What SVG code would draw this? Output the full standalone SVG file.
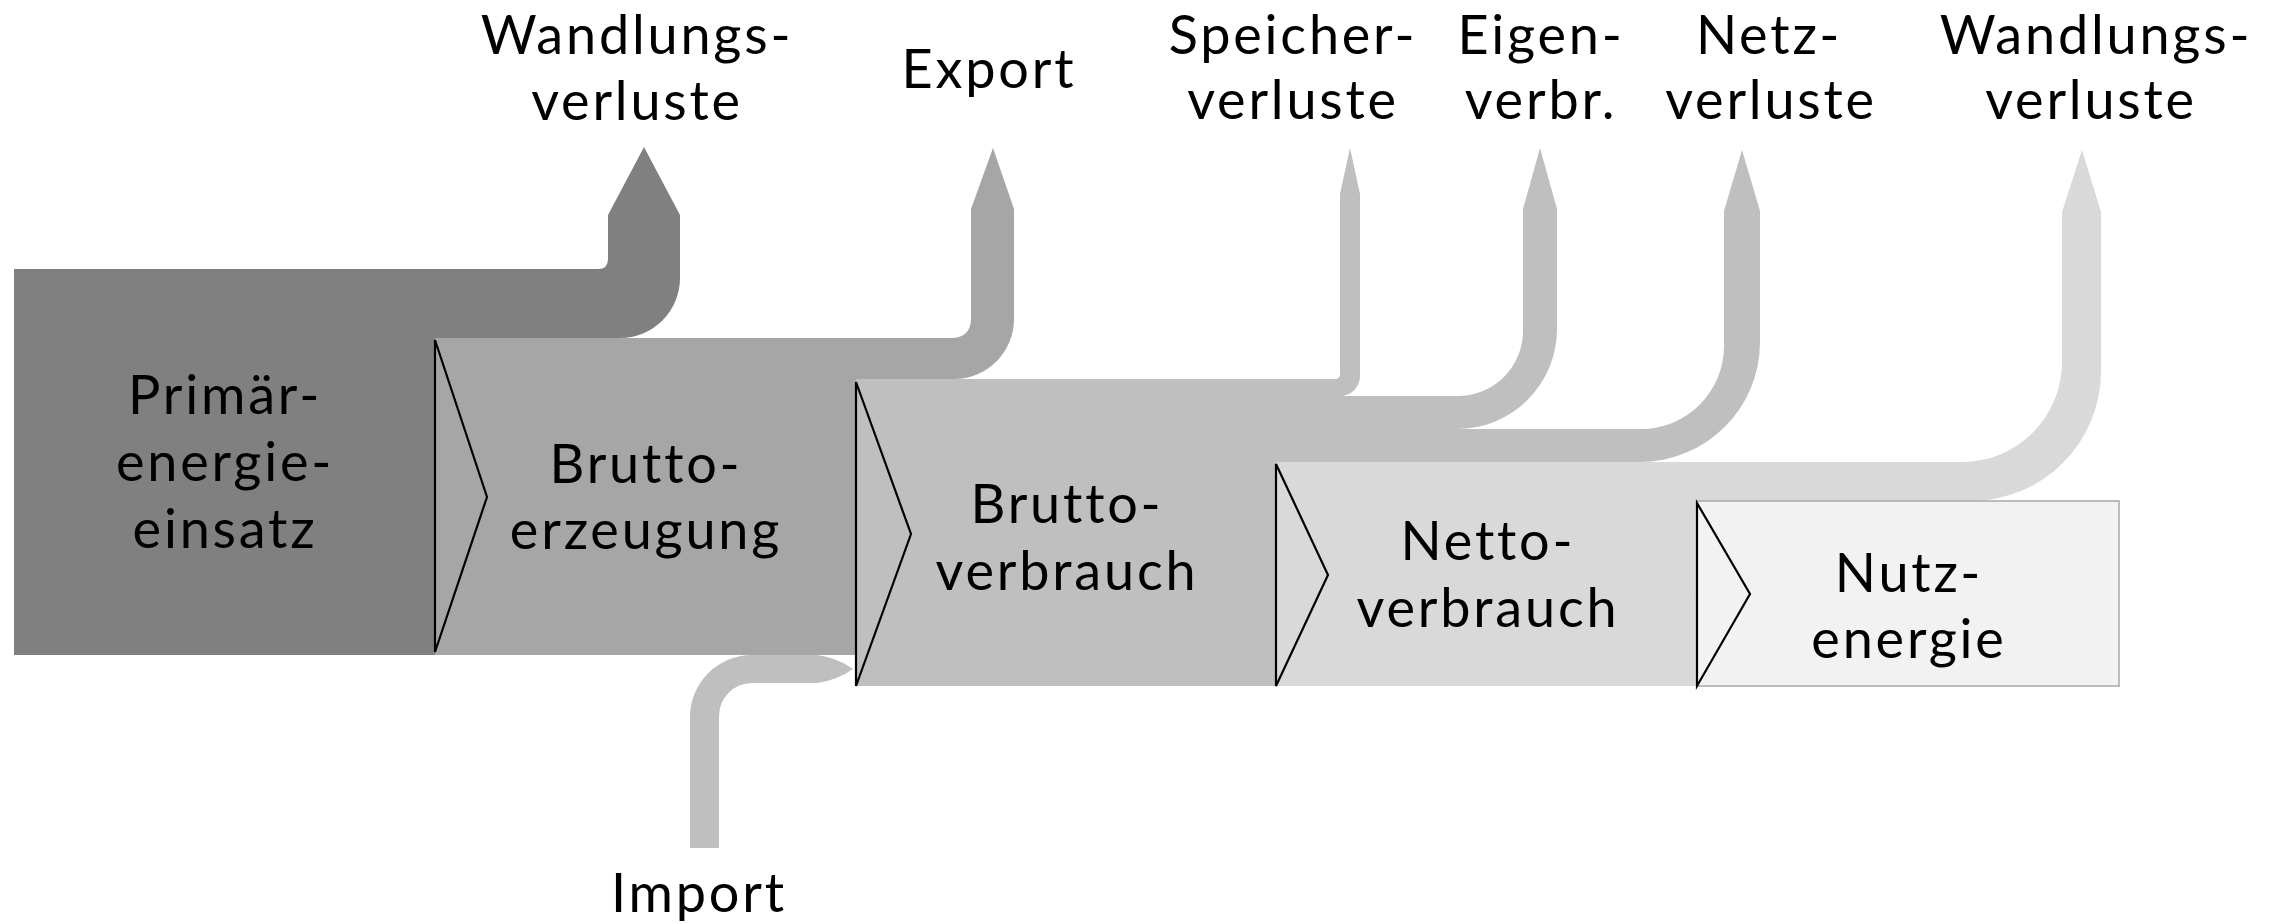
<svg xmlns="http://www.w3.org/2000/svg" width="2281" height="924" viewBox="0 0 2281 924">
<style>
text{font-family:Lato,"Open Sans","Liberation Sans",sans-serif;font-size:54px;fill:#000;text-anchor:middle;letter-spacing:2.8px;font-variant-ligatures:none}
.chev{fill:none;stroke:#000;stroke-width:2.2;stroke-linejoin:miter}
.c1{fill:#808080}.c2{fill:#a6a6a6}.c3{fill:#bfbfbf}.c4{fill:#d9d9d9}.c5{fill:#f2f2f2;stroke:#a8a8a8;stroke-width:1.5}
</style>
<rect width="2281" height="924" fill="#fff"/>
<g id="primaerenergieeinsatz">
<path class="c1" d="M14,269 H598 Q608,269 608,259 V215 L644,147 L680,215 V278 A60,60 0 0 1 620,338 H435 V655 H14 Z"/>
<text x="225" y="414">Primär-</text><text x="225" y="481">energie-</text><text x="225" y="548">einsatz</text>
</g>
<g id="bruttoerzeugung">
<path class="c2" d="M435,338 H951 Q971,338 971,318 V209 L993,148 L1014,209 V319 A60,60 0 0 1 954,379 H856 V655 H435 Z"/>
<text x="646" y="483">Brutto-</text><text x="646" y="549">erzeugung</text>
</g>
<g id="bruttoverbrauch">
<path class="c3" d="M856,379 H1335 Q1340,379 1340,374 V194 L1350,148 L1360,194 V376 A20,20 0 0 1 1340,396 H1458 A65,65 0 0 0 1523,331 V209 L1540,148 L1557,209 V329 A100,100 0 0 1 1457,429 H1641 A83,83 0 0 0 1724,346 V211 L1742,150 L1760,211 V342 A120,120 0 0 1 1640,462 H1276 V686 H856 Z"/>
<text x="1067" y="523">Brutto-</text><text x="1067" y="590">verbrauch</text>
</g>
<g id="nettoverbrauch">
<path class="c4" d="M1276,462 H1962 A100,100 0 0 0 2062,362 V212 L2082,150 L2101,212 V371 A130,130 0 0 1 1971,501 H1697 V686 H1276 Z"/>
<text x="1488" y="560">Netto-</text><text x="1488" y="627">verbrauch</text>
</g>
<g id="nutzenergie">
<rect class="c5" x="1697" y="501" width="422" height="185"/>
<text x="1909" y="592">Nutz-</text><text x="1909" y="658">energie</text>
</g>
<g id="import">
<path class="c3" d="M690,848 V717 A62,62 0 0 1 752,655 H817 Q838,658 853,669 Q838,680 817,683 H752 A33,33 0 0 0 719,716 V848 Z"/>
<text x="699" y="912">Import</text>
</g>
<g id="loss-labels">
<text x="637" y="54">Wandlungs-</text><text x="637" y="120">verluste</text>
<text x="989" y="88">Export</text>
<text x="1293" y="54">Speicher-</text><text x="1293" y="119">verluste</text>
<text x="1541" y="54">Eigen-</text><text x="1541" y="119">verbr.</text>
<text x="1769" y="54">Netz-</text><text x="1771" y="119">verluste</text>
<text x="2096" y="54">Wandlungs-</text><text x="2091" y="119">verluste</text>
</g>
<g id="connectors">
<path class="chev" d="M435,340 L487,497 L435,652 Z"/>
<path class="chev" d="M856,382 L911,534 L856,686 Z"/>
<path class="chev" d="M1276,464 L1328,575 L1276,686 Z"/>
<path class="chev" d="M1697,503 L1750,594 L1697,686 Z"/>
</g>
</svg>
